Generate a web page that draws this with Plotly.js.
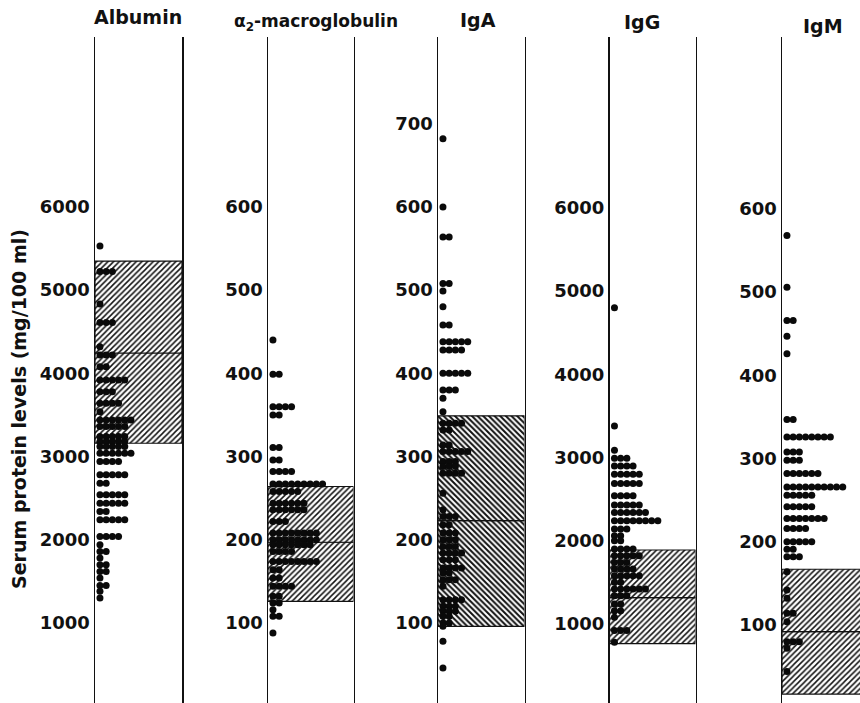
<!DOCTYPE html>
<html>
<head>
<meta charset="utf-8">
<script src="https://cdn.plot.ly/plotly-3.0.1.min.js"></script>
<style>html,body{margin:0;padding:0;background:#fff;}#chart{width:860px;height:703px;}</style>
</head>
<body>
<div id="chart"></div>
<script>
// ---- Data ----
const panelNames = ['Albumin', 'α<sub>2</sub>-macroglobulin', 'IgA', 'IgG', 'IgM'];

// Albumin (mg/100 ml)
const albValues = [5530,5225,4834,4610,4320,4220,4080,3920,3780,3640,3540,3440,3360,3240,3180,3120,3040,2940,2780,2680,2540,2440,2340,2240,2040,1940,1860,1780,1700,1620,1540,1450,1380,1300];
const albCounts = [1,3,1,3,1,3,2,5,3,4,1,6,5,5,5,5,6,4,5,2,5,5,2,5,4,1,2,1,2,2,1,2,1,1];
const albBand = [3160, 4245, 5350];   // low, median, high of normal range
const albTicks = [1000,2000,3000,4000,5000,6000];

// alpha2-macroglobulin
const a2Values = [440,399,360,350,311,296,282,267,258,244,236,222,208,200,194,186,174,164,154,144,132,124,116,108,88];
const a2Counts = [1,2,4,2,2,2,4,9,5,6,6,3,8,8,7,4,8,2,2,4,2,2,1,2,1];
const a2Band = [126, 197, 264];
const a2Ticks = [100,200,300,400,500,600];

// IgA
const igaValues = [682,600,564,508,499,480,458,438,428,400,380,370,354,340,332,314,306,294,288,280,256,236,228,218,208,200,192,184,176,166,160,152,144,128,120,114,108,100,96,78,46];
const igaCounts = [1,1,2,2,1,1,2,5,4,5,3,1,1,4,2,2,5,3,3,4,1,1,3,2,3,3,3,4,3,4,2,3,1,4,3,3,2,2,1,1,1];
const igaBand = [96, 223, 349];
const igaTicks = [100,200,300,400,500,600,700];

// IgG
const iggValues = [4802,3380,3088,2991,2900,2800,2687,2540,2430,2340,2240,2140,2060,2000,1900,1820,1740,1660,1580,1500,1420,1340,1240,1160,1080,920,780];
const iggCounts = [1,1,1,3,4,5,5,4,5,6,8,3,2,2,4,5,3,4,5,2,6,3,2,2,1,3,1];
const iggBand = [763, 1316, 1889];
const iggTicks = [1000,2000,3000,4000,5000,6000];

// IgM
const igmValues = [568,506,466,447,426,347,326,308,298,282,266,256,242,228,216,200,191,182,164,142,132,114,104,80,72,44];
const igmCounts = [1,1,2,1,1,2,8,3,3,6,10,5,5,7,4,5,2,3,1,1,1,2,1,3,1,1];
const igmBand = [17, 92, 167];
const igmTicks = [100,200,300,400,500,600];

// ---- Layout geometry / styles ----
const W = 860, H = 703, TOP = 37;
const DOT = 6.2;          // px per dot step
const panelPx = [[95,182],[268,353.5],[438,524.5],[609.5,695.5],[782,860]];
const yRanges = [[38,8043],[3.8,804.3],[3.8,804.3],[50,8055],[6.25,806.7]];
const hatch = ['/', '/', '\\', '/', '/'];
const hatchSolid = [0.38, 0.38, 0.5, 0.38, 0.38];

const series = [
  {values: albValues, counts: albCounts, band: albBand, ticks: albTicks},
  {values: a2Values, counts: a2Counts, band: a2Band, ticks: a2Ticks},
  {values: igaValues, counts: igaCounts, band: igaBand, ticks: igaTicks},
  {values: iggValues, counts: iggCounts, band: iggBand, ticks: iggTicks},
  {values: igmValues, counts: igmCounts, band: igmBand, ticks: igmTicks}
];

const traces = [];
const layout = {
  width: W, height: H,
  margin: {l: 0, r: 0, t: TOP, b: 0, pad: 0},
  paper_bgcolor: '#fff', plot_bgcolor: 'rgba(0,0,0,0)',
  showlegend: false, hovermode: false,
  barmode: 'overlay',
  annotations: []
};

const tickFont = {family: 'DejaVu Sans', size: 18, color: '#111', weight: 700};

series.forEach((s, k) => {
  const n = k + 1;
  const xa = n === 1 ? 'x' : 'x' + n;
  const ya = n === 1 ? 'y' : 'y' + n;
  const xKey = n === 1 ? 'xaxis' : 'xaxis' + n;
  const yKey = n === 1 ? 'yaxis' : 'yaxis' + n;
  const [p0, p1] = panelPx[k];
  const wUnits = (p1 - p0) / DOT;
  const fullW = (k === 4) ? (870 - p0) / DOT : wUnits;

  // Normal-range band: lower half and upper half (median line between)
  const bandStyle = {
    color: '#fff',
    line: {color: '#111', width: 1.2},
    pattern: {shape: hatch[k], fgcolor: '#111', bgcolor: '#fff', size: 4, solidity: hatchSolid[k]}
  };
  traces.push({type: 'bar', xaxis: xa, yaxis: ya, x: [fullW / 2], width: [fullW],
    base: [s.band[0]], y: [s.band[1] - s.band[0]], marker: bandStyle, hoverinfo: 'skip'});
  traces.push({type: 'bar', xaxis: xa, yaxis: ya, x: [fullW / 2], width: [fullW],
    base: [s.band[1]], y: [s.band[2] - s.band[1]], marker: bandStyle, hoverinfo: 'skip'});

  // Dots
  const dx = [], dy = [];
  s.values.forEach((v, i) => {
    for (let j = 0; j < s.counts[i]; j++) { dx.push(0.8 + j); dy.push(v); }
  });
  traces.push({type: 'scatter', mode: 'markers', xaxis: xa, yaxis: ya, x: dx, y: dy,
    marker: {size: 7, color: '#0a0a0a', line: {width: 0}}, cliponaxis: false, hoverinfo: 'skip'});

  layout[xKey] = {
    domain: [p0 / W, p1 / W], range: [0, wUnits], anchor: ya,
    showgrid: false, zeroline: false, showticklabels: false, ticks: '',
    showline: k === 0, linecolor: '#111', linewidth: 1.5, fixedrange: true
  };
  layout[yKey] = {
    domain: [0, 1], range: yRanges[k], anchor: xa,
    showgrid: false, zeroline: false, ticks: '',
    tickmode: 'array', tickvals: s.ticks, ticktext: s.ticks.map(String),
    tickfont: tickFont,
    showline: true, mirror: k !== 4, linecolor: '#111', linewidth: 1.5, fixedrange: true
  };
});

// Panel titles
const titlePos = [[138, 17, 19], [316, 22, 17], [478, 20, 19], [642, 22, 19], [823, 26, 19]];
panelNames.forEach((t, k) => {
  const [px, py, fs] = titlePos[k];
  layout.annotations.push({
    text: t, xref: 'paper', yref: 'paper',
    x: px / W, y: (H - py) / (H - TOP), xanchor: 'center', yanchor: 'middle',
    showarrow: false, font: {family: 'DejaVu Sans', size: fs, color: '#111', weight: 700}
  });
});

// Shared y-axis title
layout.annotations.push({
  text: 'Serum protein levels (mg/100 ml)', xref: 'paper', yref: 'paper',
  x: 19 / W, y: (H - 409) / (H - TOP), xanchor: 'center', yanchor: 'middle',
  textangle: -90, showarrow: false,
  font: {family: 'DejaVu Sans', size: 19, color: '#111', weight: 700}
});

Plotly.newPlot('chart', traces, layout, {staticPlot: true, displayModeBar: false});
</script>
</body>
</html>
